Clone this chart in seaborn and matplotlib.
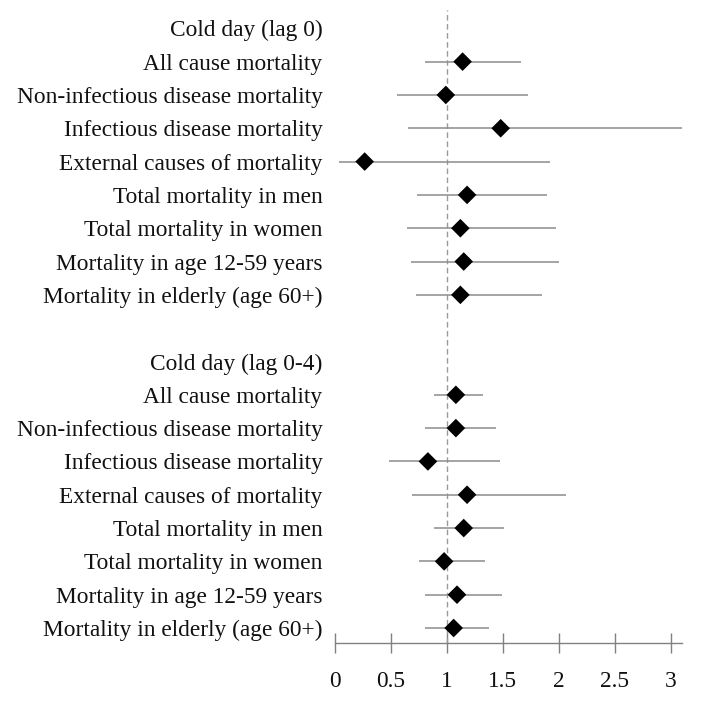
import matplotlib
matplotlib.use("Agg")
import matplotlib.pyplot as plt
import seaborn as sns
import pandas as pd

sns.set_theme(style="white")
plt.rcParams['font.family'] = ['Liberation Serif', 'DejaVu Serif']

outcomes = ["All cause mortality", "Non-infectious disease mortality",
            "Infectious disease mortality", "External causes of mortality",
            "Total mortality in men", "Total mortality in women",
            "Mortality in age 12-59 years", "Mortality in elderly (age 60+)"]
groups = ["Cold day (lag 0)", "Cold day (lag 0-4)"]

est_lag0 = [1.14, 0.99, 1.48, 0.265, 1.18, 1.12, 1.15, 1.12]
lo_lag0 = [0.80, 0.55, 0.65, 0.035, 0.735, 0.64, 0.68, 0.72]
hi_lag0 = [1.66, 1.72, 3.10, 1.92, 1.89, 1.97, 2.00, 1.85]

est_lag04 = [1.08, 1.08, 0.83, 1.18, 1.15, 0.975, 1.09, 1.06]
lo_lag04 = [0.88, 0.80, 0.48, 0.685, 0.88, 0.75, 0.80, 0.80]
hi_lag04 = [1.32, 1.44, 1.47, 2.06, 1.51, 1.34, 1.49, 1.38]

xticks = [0, 0.5, 1, 1.5, 2, 2.5, 3]
xticklabels = ["0", "0.5", "1", "1.5", "2", "2.5", "3"]

# build rows: header, 8 outcomes, blank, header, 8 outcomes
ypos, est, lo, hi = [], [], [], []
slot = 0
all_labels = []
for g, (e, l, h) in zip(groups, [(est_lag0, lo_lag0, hi_lag0), (est_lag04, lo_lag04, hi_lag04)]):
    all_labels.append((slot, g))
    slot += 1
    for name, ev, lv, hv in zip(outcomes, e, l, h):
        all_labels.append((slot, name))
        ypos.append(slot); est.append(ev); lo.append(lv); hi.append(hv)
        slot += 1
    slot += 1  # blank row

df = pd.DataFrame({"y": ypos, "est": est, "lo": lo, "hi": hi})

W, H = 701, 704
fig = plt.figure(figsize=(W / 100, H / 100), dpi=100)
left_px, right_px, top_px, bottom_px = 335, 682, 10, 643
ax = fig.add_axes([left_px / W, 1 - bottom_px / H, (right_px - left_px) / W, (bottom_px - top_px) / H])

ax.axvline(1, color="#9a9a9a", lw=1.0, ls=(0, (4, 2.5)), zorder=1)
ax.hlines(df["y"], df["lo"], df["hi"], color="#8c8c8c", lw=1.1, zorder=2)
sns.scatterplot(data=df, x="est", y="y", marker="D", s=90, color="black",
                edgecolor="none", ax=ax, zorder=3, legend=False)

ax.set_xlim(0, 3.1)
ax.set_ylim(18.45, -0.55)
ax.set_yticks([s for s, _ in all_labels])
ax.set_yticklabels([t for _, t in all_labels], fontsize=16.8, color="#111111")
ax.tick_params(axis="y", length=0, pad=9)
ax.set_xticks(xticks)
ax.set_xticklabels(xticklabels, fontsize=16.8, color="#111111")
ax.tick_params(axis="x", direction="inout", length=15, width=1.0, color="#808080", pad=13, bottom=True)
for side in ["top", "right", "left"]:
    ax.spines[side].set_visible(False)
ax.spines["bottom"].set_color("#808080")
ax.spines["bottom"].set_linewidth(1.0)
ax.set_xlabel("")
ax.set_ylabel("")
ax.grid(False)

fig.savefig("out.png", dpi=100)
